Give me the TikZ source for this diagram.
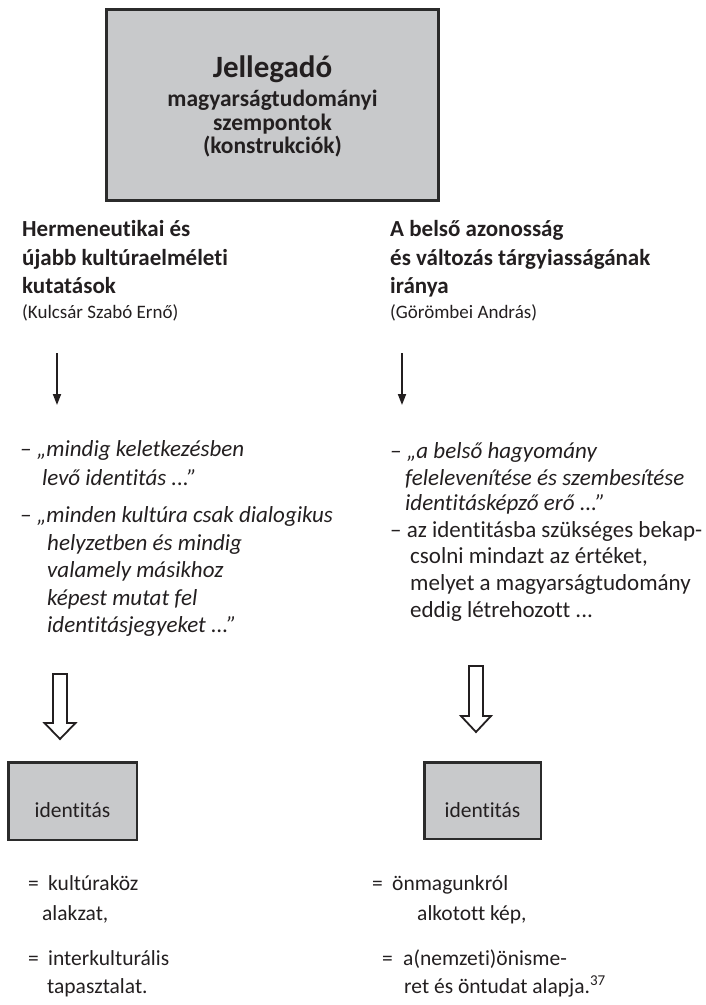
\documentclass[tikz,border=0pt]{standalone}
\usepackage{fontspec}
\setmainfont{Carlito}[Ligatures=NoCommon]
\usetikzlibrary{arrows.meta}
\definecolor{inkc}{HTML}{231F20}
\definecolor{boxfill}{HTML}{C8C9CB}
\definecolor{boxline}{HTML}{2B2B2B}
\begin{document}
\begin{tikzpicture}[x=1pt,y=-1pt,
  panel/.style={draw=boxline, fill=boxfill, inner sep=0pt},
  ln/.style={anchor=base west, inner sep=0pt, text=inkc, font=\fontsize{21.5}{26}\selectfont},
  lnit/.style={ln, font=\fontsize{23}{27}\selectfont\itshape},
  lnup/.style={ln, font=\fontsize{23}{27}\selectfont},
  head/.style={ln, font=\fontsize{23}{27}\selectfont\bfseries},
  auth/.style={ln, font=\fontsize{19}{22}\selectfont},
  toptxt/.style={anchor=base, inner sep=0pt, text=inkc, font=\fontsize{23.5}{27}\selectfont\bfseries},
  idtxt/.style={anchor=base, inner sep=0pt, text=inkc, font=\fontsize{21.5}{26}\selectfont},
  thin/.style={draw=inkc, line width=1.8pt, -{Triangle[length=11pt,width=8pt]}},
  hollow/.style={draw=inkc, line width=1.8pt, fill=white, line join=miter}
]
\useasboundingbox (0,0) rectangle (706,1005);

% header box
\node[panel, line width=3pt, minimum width=332pt, minimum height=191pt] (top) at (272.5,105) {};
\node[toptxt, font=\fontsize{31}{35}\selectfont\bfseries] (t1) at (272.5,77) {Jellegadó};
\node[toptxt] (t2) at (272.5,106) {magyarságtudományi};
\node[toptxt] (t3) at (272.5,130) {szempontok};
\node[toptxt] (t4) at (272.5,153) {(konstrukciók)};

% left column heading
\node[head] (lh1) at (22,236) {Hermeneutikai és};
\node[head] (lh2) at (22,265) {újabb kultúraelméleti};
\node[head] (lh3) at (22,293) {kutatások};
\node[auth] (lh4) at (22,318) {(Kulcsár Szabó Ernő)};

% right column heading
\node[head] (rh1) at (390,236) {A belső azonosság};
\node[head] (rh2) at (390,265) {és változás tárgyiasságának};
\node[head] (rh3) at (390,293) {iránya};
\node[auth] (rh4) at (390,318) {(Görömbei András)};

% thin arrows
\coordinate (la0) at (57,353);
\coordinate (la1) at (57,405);
\coordinate (ra0) at (402,353);
\coordinate (ra1) at (402,405);
\draw[thin] (la0) -- (la1);
\draw[thin] (ra0) -- (ra1);

% left quotations
\node[lnit] (lq1) at (20,456) {– „mindig keletkezésben};
\node[lnit] (lq2) at (42,485) {levő identitás ...”};
\node[lnit] (lq3) at (20,522) {– „minden kultúra csak dialogikus};
\node[lnit] (lq4) at (47,550) {helyzetben és mindig};
\node[lnit] (lq5) at (47,577) {valamely másikhoz};
\node[lnit] (lq6) at (47,605) {képest mutat fel};
\node[lnit] (lq7) at (47,632) {identitásjegyeket ...”};

% right quotations
\node[lnit] (rq1) at (390,458) {– „a belső hagyomány};
\node[lnit] (rq2) at (405,485) {felelevenítése és szembesítése};
\node[lnit] (rq3) at (405,510) {identitásképző erő ...”};
\node[lnup] (rq4) at (390,537) {– az identitásba szükséges bekap-};
\node[lnup] (rq5) at (410,563) {csolni mindazt az értéket,};
\node[lnup] (rq6) at (410,590) {melyet a magyarságtudomány};
\node[lnup] (rq7) at (410,617) {eddig létrehozott ...};

% hollow arrows
\coordinate (lt) at (60,674);
\draw[hollow] (lt) ++(-7,0) -- ++(14,0) -- ++(0,49) -- ++(8.5,0) -- (60,739) -- (44.5,723) -- ++(8.5,0) -- cycle;
\coordinate (rt) at (476,666);
\draw[hollow] (rt) ++(-7,0) -- ++(14,0) -- ++(0,50) -- ++(8,0) -- (476,732) -- (461,716) -- ++(8,0) -- cycle;

% identity boxes
\node[panel, line width=2.5pt, minimum width=128.5pt, minimum height=77.5pt] (idL) at (72.5,801) {};
\node[idtxt] (idLt) at (72.5,817) {identitás};
\node[panel, line width=2.5pt, minimum width=116.5pt, minimum height=76.5pt] (idR) at (482.5,800.5) {};
\node[idtxt] (idRt) at (482.5,817) {identitás};

% left definitions
\node[ln] (le1) at (28,890) {=};
\node[ln] (ld1) at (48,890) {kultúraköz};
\node[ln] (ld2) at (42,920) {alakzat,};
\node[ln] (le2) at (28,965) {=};
\node[ln] (ld3) at (48,965) {interkulturális};
\node[ln] (ld4) at (47,993) {tapasztalat.};

% right definitions
\node[ln] (re1) at (372,890) {=};
\node[ln] (rd1) at (392,890) {önmagunkról};
\node[ln] (rd2) at (417,920) {alkotott kép,};
\node[ln] (re2) at (382,965) {=};
\node[ln] (rd3) at (403,965) {a(nemzeti)önisme-};
\node[ln] (rd4) at (404,993) {ret és öntudat alapja.\textsuperscript{37}};
\end{tikzpicture}
\end{document}
